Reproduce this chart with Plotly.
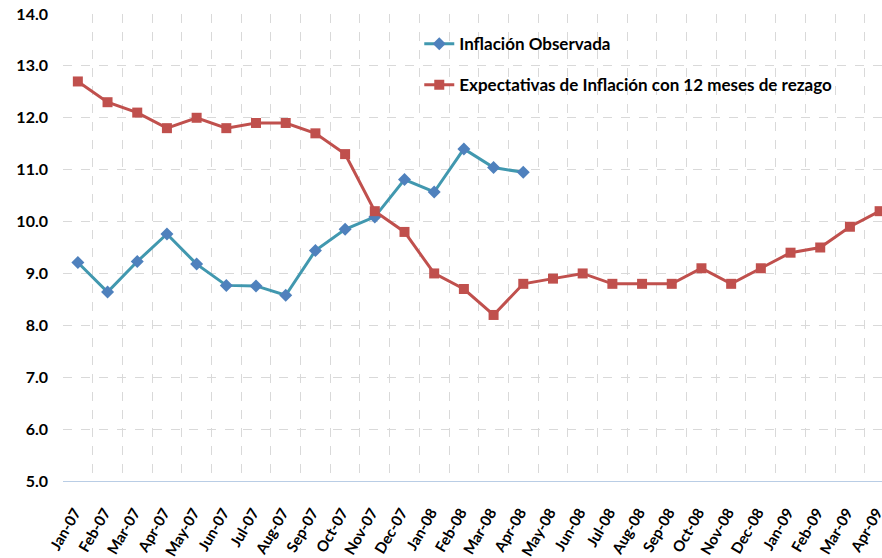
import plotly.graph_objects as go

months = ["Jan-07","Feb-07","Mar-07","Apr-07","May-07","Jun-07","Jul-07","Aug-07","Sep-07","Oct-07",
          "Nov-07","Dec-07","Jan-08","Feb-08","Mar-08","Apr-08","May-08","Jun-08","Jul-08","Aug-08",
          "Sep-08","Oct-08","Nov-08","Dec-08","Jan-09","Feb-09","Mar-09","Apr-09"]

observada = [9.21, 8.64, 9.23, 9.76, 9.18, 8.77, 8.76, 8.58, 9.44, 9.85,
             10.09, 10.81, 10.57, 11.40, 11.04, 10.95]

expectativas = [12.7, 12.3, 12.1, 11.8, 12.0, 11.8, 11.9, 11.9, 11.7, 11.3,
                10.2, 9.8, 9.0, 8.7, 8.2, 8.8, 8.9, 9.0, 8.8, 8.8,
                8.8, 9.1, 8.8, 9.1, 9.4, 9.5, 9.9, 10.2]

name_obs = "Inflación Observada"
name_exp = "Expectativas de Inflación con 12 meses de rezago"

fig = go.Figure()
fig.add_trace(go.Scatter(
    x=months[:len(observada)], y=observada, name=name_obs, mode="lines+markers",
    line=dict(color="#4198AF", width=3),
    marker=dict(symbol="diamond", size=10, color="#4F81BD"),
    legendgroup="a", cliponaxis=False,
))
fig.add_trace(go.Scatter(
    x=months, y=expectativas, name=name_exp, mode="lines+markers",
    line=dict(color="#C0504D", width=3),
    marker=dict(symbol="square", size=10, color="#C0504D"),
    legendgroup="b", cliponaxis=False,
))

fig.update_layout(
    width=882, height=558,
    margin=dict(l=63, r=0, t=14, b=77),
    paper_bgcolor="white", plot_bgcolor="white",
    font=dict(family="Lato, Open Sans, sans-serif", color="black"),
    showlegend=True,
    legend=dict(
        x=0.435, y=0.974, xanchor="left", yanchor="top",
        bgcolor="rgba(0,0,0,0)",
        font=dict(size=17, family="Lato", weight="bold"),
        tracegroupgap=16,
        traceorder="grouped",
        itemwidth=30,
    ),
    xaxis=dict(
        type="category", categoryorder="array", categoryarray=months,
        range=[-0.5, 27.08],
        tickson="boundaries",
        showgrid=True, gridcolor="#D9D9D9", griddash="dash", gridwidth=1,
        tickangle=-60,
        tickfont=dict(size=15, family="Lato", weight="bold"),
        ticklabelstandoff=16,
        ticklabelshift=-3,
        ticklabeloverflow="allow",
        showline=True, linecolor="#B9CDE5", linewidth=1,
        ticks="", zeroline=False, automargin=False,
    ),
    yaxis=dict(
        range=[5, 14], dtick=1, tickformat=".1f",
        showgrid=True, gridcolor="#D9D9D9", griddash="dash", gridwidth=1,
        tickfont=dict(size=16, family="Lato", weight="bold"),
        showline=False, zeroline=False, ticks="",
        ticklabelstandoff=14, automargin=False,
        ticklabeloverflow="allow",
    ),
)

fig.write_html("out.html",
               config={"displayModeBar": False},
               post_script="document.body.style.margin='0';document.body.style.overflow='hidden';")
